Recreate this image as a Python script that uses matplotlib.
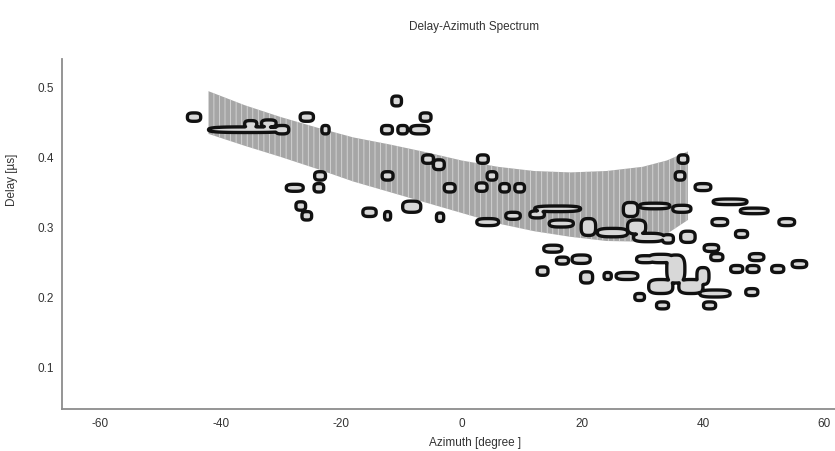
import numpy as np
import matplotlib
matplotlib.use("Agg")
import matplotlib.pyplot as plt

plt.rcParams["font.family"] = ["Liberation Sans", "DejaVu Sans"]
plt.rcParams["axes.unicode_minus"] = False
plt.rcParams["hatch.linewidth"] = 0.6

# edges of the hatched band (azimuth in degree, delay in us)
band_x = [-42, -36, -30, -24, -18, -12, -6, 0, 6, 12, 18, 24, 30, 34, 37.5]
band_top = [0.494, 0.474, 0.457, 0.442, 0.428, 0.418, 0.407, 0.395, 0.386,
            0.380, 0.378, 0.380, 0.386, 0.395, 0.408]
band_bot = [0.433, 0.416, 0.400, 0.383, 0.365, 0.350, 0.335, 0.320, 0.305,
            0.294, 0.286, 0.280, 0.279, 0.290, 0.310]

# contour blobs: centre azimuth, centre delay, half width, half height
blob_x = [-44.4, -35.5, -35.0, -32.0, -29.8, -25.7, -22.6, -23.5, -27.7, -23.7,
          -26.7, -25.7,
          -10.8, -12.4, -9.8, -7.0, -6.0, -5.6, -3.8, -12.3, -2.0, 3.5, 5.0,
          3.3, 7.1, 9.6, -15.3, -12.3, -8.3, -3.6, 4.3, 8.5,
          15.9, 16.5, 12.5, 21.0, 25.0, 29.0, 28.0, 32.0, 31.0, 36.5,
          36.7, 36.2, 40.0, 44.5, 48.5, 42.8, 53.9, 46.4, 34.2, 37.5, 41.4,
          48.9, 42.3, 45.6, 48.3, 52.4, 56.0,
          13.4, 15.1, 16.7, 19.8, 20.7, 24.2, 27.4, 30.5,
          33.0, 35.5, 33.0, 38.0, 40.0, 42.0, 48.1, 33.3, 41.1, 29.5]
blob_y = [0.457, 0.439, 0.447, 0.448, 0.439, 0.457, 0.439, 0.373, 0.356, 0.356,
          0.330, 0.316,
          0.480, 0.439, 0.439, 0.439, 0.457, 0.397, 0.389, 0.373, 0.356, 0.397,
          0.373, 0.357, 0.356, 0.356, 0.321, 0.316, 0.329, 0.314, 0.307, 0.316,
          0.326, 0.305, 0.318, 0.300, 0.292, 0.300, 0.325, 0.330, 0.285, 0.326,
          0.397, 0.373, 0.357, 0.336, 0.323, 0.307, 0.307, 0.290, 0.283, 0.286,
          0.270, 0.257, 0.257, 0.240, 0.240, 0.240, 0.247,
          0.237, 0.269, 0.252, 0.254, 0.228, 0.230, 0.230, 0.254,
          0.255, 0.240, 0.215, 0.215, 0.230, 0.205, 0.207, 0.188, 0.188, 0.200]
blob_w = [1.1, 6.5, 1.0, 1.2, 1.1, 1.1, 0.6, 0.9, 1.4, 0.8,
          0.8, 0.8,
          0.8, 0.9, 0.8, 1.5, 0.9, 0.9, 0.9, 0.9, 0.9, 0.9, 0.8,
          0.9, 0.8, 0.8, 1.1, 0.5, 1.5, 0.6, 1.8, 1.2,
          3.8, 2.0, 1.2, 1.2, 2.5, 1.5, 1.2, 2.5, 2.5, 1.5,
          0.8, 0.8, 1.3, 2.8, 2.3, 1.3, 1.3, 1.0, 0.9, 1.2, 1.2,
          1.2, 1.0, 1.0, 1.0, 1.0, 1.2,
          0.9, 1.5, 1.0, 1.5, 1.0, 0.6, 1.8, 1.5,
          2.0, 1.5, 2.0, 2.0, 1.0, 2.5, 1.0, 1.0, 1.0, 0.8]
blob_h = [0.006, 0.004, 0.005, 0.005, 0.006, 0.006, 0.006, 0.006, 0.005, 0.006,
          0.006, 0.006,
          0.007, 0.006, 0.006, 0.006, 0.006, 0.006, 0.007, 0.006, 0.006, 0.006,
          0.006, 0.006, 0.006, 0.006, 0.006, 0.006, 0.008, 0.006, 0.005, 0.005,
          0.004, 0.005, 0.005, 0.012, 0.006, 0.010, 0.010, 0.004, 0.006, 0.005,
          0.006, 0.006, 0.005, 0.004, 0.004, 0.005, 0.005, 0.005, 0.006, 0.008,
          0.005, 0.005, 0.005, 0.005, 0.005, 0.005, 0.005,
          0.006, 0.005, 0.005, 0.006, 0.008, 0.005, 0.005, 0.005,
          0.006, 0.020, 0.010, 0.010, 0.012, 0.005, 0.005, 0.005, 0.005, 0.005]

x_ticks = [-60, -40, -20, 0, 20, 40, 60]
y_ticks = [0.1, 0.2, 0.3, 0.4, 0.5]

fig = plt.figure(figsize=(8.35, 4.52), dpi=100)
ax = fig.add_axes([62 / 835, 42 / 452, 773 / 835, 350 / 452])

# band
ax.fill_between(band_x, band_bot, band_top, facecolor="#a6a6a6",
                edgecolor="#d8d8d8", hatch="|||", linewidth=0, zorder=1)

# blobs as one contour field
gx = np.linspace(-66.3, 61.9, 1300)
gy = np.linspace(0.04, 0.54, 700)
X, Y = np.meshgrid(gx, gy)
Z = np.full(X.shape, -1.0)
for cx, cy, w, h in zip(blob_x, blob_y, blob_w, blob_h):
    r = (np.abs((X - cx) / w) ** 3 + np.abs((Y - cy) / h) ** 3) ** (1 / 3)
    Z = np.maximum(Z, 1 - r)
ax.contourf(X, Y, Z, levels=[0, 2], colors=["#d8d8d8"], zorder=2)
ax.contour(X, Y, Z, levels=[0], colors="#111111", linewidths=2.4, zorder=3)

ax.set_xlim(-66.3, 61.9)
ax.set_ylim(0.04, 0.54)
ax.set_xticks(x_ticks)
ax.set_yticks(y_ticks)
ax.tick_params(length=0, labelsize=8.5, labelcolor="#333333", pad=6)
for s in ["top", "right"]:
    ax.spines[s].set_visible(False)
for s in ["left", "bottom"]:
    ax.spines[s].set_color("#8c8c8c")
    ax.spines[s].set_linewidth(1.3)

ax.set_xlabel("Azimuth [degree ]", fontsize=8.5, color="#333333")
ax.set_ylabel("Delay [µs]", fontsize=8.5, color="#333333")
ax.xaxis.set_label_coords(0.534, -0.077)
ax.yaxis.set_label_coords(-0.057, 0.657)

fig.text(474 / 835, 1 - 27 / 452, "Delay-Azimuth Spectrum", fontsize=8.5,
         color="#333333", ha="center", va="center")

fig.savefig("out.png", dpi=100)
